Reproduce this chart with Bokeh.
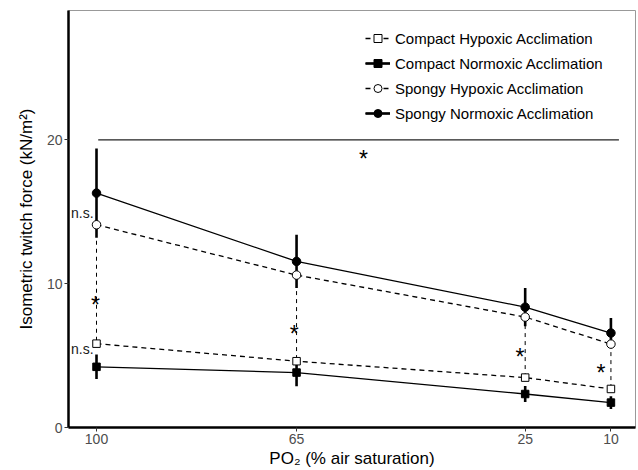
from bokeh.plotting import figure
from bokeh.models import Range1d, FixedTicker, Legend, LegendItem
from bokeh.core.properties import value
from bokeh.embed import file_html
from bokeh.resources import INLINE

# ---- data ----
po2 = [100, 65, 25, 10]
compact_hyp = [5.83, 4.61, 3.47, 2.68]
compact_norm = [4.22, 3.82, 2.33, 1.73]
compact_norm_se = [0.85, 0.95, 0.55, 0.45]
spongy_hyp = [14.1, 10.6, 7.68, 5.8]
spongy_norm = [16.3, 11.55, 8.37, 6.57]
spongy_norm_se = [3.1, 1.85, 1.33, 1.05]

star_x = [100.2, 65.4, 25.9, 11.75]
star_y = [8.8, 6.8, 5.2, 4.1]
top_star_x = [53.3]
top_star_y = [18.96]
bracket_y = 20
bracket_x0 = 99.7
bracket_x1 = 8.6
ns_x = [100.5, 100.5]
ns_y = [15.0, 5.5]
ns_text = ["n.s.", "n.s."]
y_ticks = [0, 10, 20]

FONT = "Liberation Sans"

p = figure(width=638, height=470, output_backend="svg", toolbar_location=None,
           x_range=Range1d(104.9, 5.7), y_range=Range1d(0, 29),
           min_border_left=68, min_border_right=3, min_border_top=10, min_border_bottom=42)

p.background_fill_color = "white"
p.border_fill_color = "white"
p.outline_line_color = "#999999"
p.outline_line_width = 1
p.xgrid.visible = False
p.ygrid.visible = False

p.xaxis.ticker = FixedTicker(ticks=po2)
p.yaxis.ticker = FixedTicker(ticks=y_ticks)
for ax in (p.xaxis, p.yaxis):
    ax.axis_line_width = 2.5
    ax.axis_line_color = "black"
    ax.major_tick_line_color = "#333333"
    ax.major_tick_out = 4
    ax.major_tick_in = 0
    ax.minor_tick_line_color = None
    ax.major_label_text_color = "#4d4d4d"
    ax.major_label_text_font = FONT
    ax.major_label_text_font_size = "14px"
    ax.axis_label_text_font = FONT
    ax.axis_label_text_font_size = "17px"
    ax.axis_label_text_font_style = "normal"
    ax.axis_label_text_color = "black"
p.xaxis.axis_label = "PO\u2082 (% air saturation)"
p.yaxis.axis_label = "Isometric twitch force (kN/m\u00b2)"
p.xaxis.major_label_standoff = 2
p.xaxis.axis_label_standoff = 2
p.yaxis.major_label_standoff = 2
p.yaxis.axis_label_standoff = 8

# significance connectors between hypoxic groups
p.segment(x0=po2, y0=spongy_hyp, x1=po2, y1=compact_hyp,
          line_color="black", line_width=1, line_dash="4 4")

# bracket line at top
p.segment(x0=[bracket_x0], y0=[bracket_y], x1=[bracket_x1], y1=[bracket_y],
          line_color="#222222", line_width=1.3)

# connecting lines
ch_line = p.line(po2, compact_hyp, line_color="black", line_width=1.3, line_dash="5 4")
cn_line = p.line(po2, compact_norm, line_color="black", line_width=1.3)
sh_line = p.line(po2, spongy_hyp, line_color="black", line_width=1.3, line_dash="5 4")
sn_line = p.line(po2, spongy_norm, line_color="black", line_width=1.3)

# error bars (normoxic)
cn_lo = [v - s for v, s in zip(compact_norm, compact_norm_se)]
cn_hi = [v + s for v, s in zip(compact_norm, compact_norm_se)]
sn_lo = [v - s for v, s in zip(spongy_norm, spongy_norm_se)]
sn_hi = [v + s for v, s in zip(spongy_norm, spongy_norm_se)]
cn_err = p.segment(x0=po2, y0=cn_lo, x1=po2, y1=cn_hi, line_color="black", line_width=2.6)
sn_err = p.segment(x0=po2, y0=sn_lo, x1=po2, y1=sn_hi, line_color="black", line_width=2.6)

# markers
ch_mk = p.scatter(po2, compact_hyp, marker="square", size=7.5, fill_color="white",
                  line_color="black", line_width=1)
cn_mk = p.scatter(po2, compact_norm, marker="square", size=7.5, fill_color="black",
                  line_color="black", line_width=1)
sh_mk = p.scatter(po2, spongy_hyp, marker="circle", size=8.5, fill_color="white",
                  line_color="black", line_width=1)
sn_mk = p.scatter(po2, spongy_norm, marker="circle", size=8.5, fill_color="black",
                  line_color="black", line_width=1)

# annotations
p.text(x=star_x, y=star_y, text=["*"] * len(star_x), text_font=value(FONT),
       text_font_size="23px", text_align="center", text_baseline="alphabetic",
       y_offset=4, text_color="black")
p.text(x=top_star_x, y=top_star_y, text=["*"], text_font=value(FONT),
       text_font_size="23px", text_align="center", text_baseline="alphabetic",
       y_offset=4, text_color="black")
p.text(x=ns_x, y=ns_y, text=ns_text, text_font=value(FONT),
       text_font_size="14px", text_align="right", text_baseline="alphabetic",
       y_offset=1, text_color="#1a1a1a")

legend = Legend(items=[
    LegendItem(label="Compact Hypoxic Acclimation", renderers=[ch_line, ch_mk]),
    LegendItem(label="Compact Normoxic Acclimation", renderers=[cn_line, cn_err, cn_mk]),
    LegendItem(label="Spongy Hypoxic Acclimation", renderers=[sh_line, sh_mk]),
    LegendItem(label="Spongy Normoxic Acclimation", renderers=[sn_line, sn_err, sn_mk]),
])
legend.location = "top_right"
legend.margin = 18
legend.padding = 0
legend.spacing = 5
legend.glyph_width = 25
legend.glyph_height = 20
legend.label_height = 20
legend.label_width = 222
legend.label_standoff = 5
legend.label_text_font = FONT
legend.label_text_font_size = "15px"
legend.label_text_color = "black"
legend.border_line_color = None
legend.background_fill_alpha = 0
p.add_layout(legend)

open("out.html", "w").write(file_html(p, INLINE))
